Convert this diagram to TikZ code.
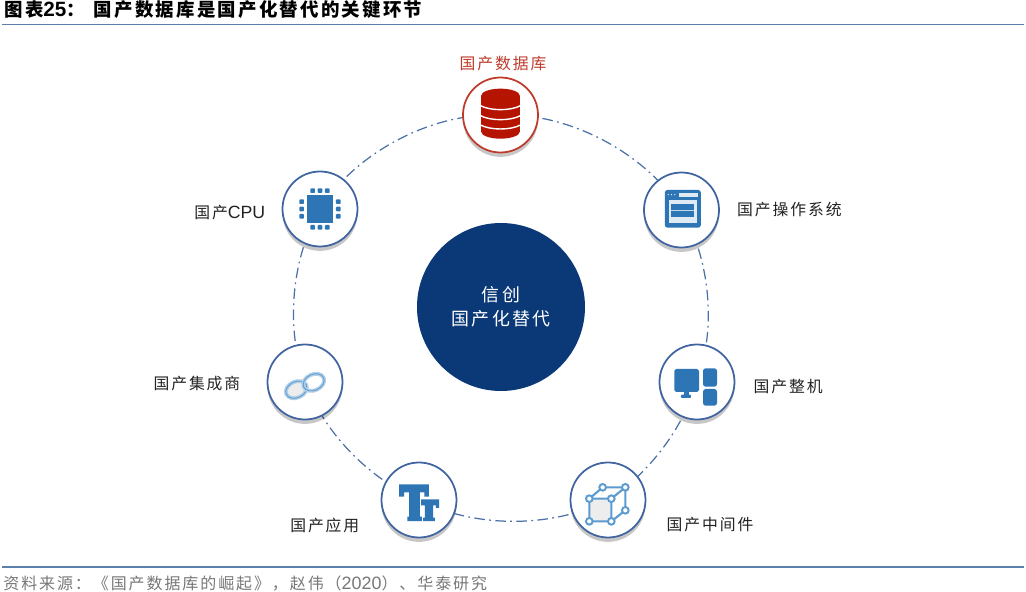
\documentclass[tikz,border=0pt]{standalone}
\usepackage{fontspec}
\setmainfont[LetterSpace=12]{Noto Sans CJK SC}
\newfontfamily\latnfont[Scale=1.12]{Liberation Sans}
\usepackage{tikz}
\usetikzlibrary{positioning,shadows,backgrounds}

\definecolor{ringblue}{HTML}{4A70A8}
\definecolor{rimblue}{HTML}{3F64A0}
\definecolor{iconblue}{HTML}{2E75B6}
\definecolor{cubeblue}{HTML}{5B9BD0}
\definecolor{paleblue}{HTML}{B4D0E8}
\definecolor{hubblue}{HTML}{0B3877}
\definecolor{rulecolor}{HTML}{5B80AE}
\definecolor{dbred}{HTML}{B41400}
\definecolor{rimred}{HTML}{BE3A2A}
\definecolor{labelgray}{HTML}{222222}
\definecolor{notegray}{HTML}{777777}

\tikzset{
	ringlink/.style={ringblue,line width=.7pt,dash pattern=on 6pt off 2.5pt on 1pt off 2.5pt,looseness=.85},
	itemnode/.style={circle,draw=rimblue,line width=1pt,fill=white,minimum size=1.5cm,inner sep=0pt,
		drop shadow={shadow xshift=0pt,shadow yshift=-2.5pt,opacity=.22,fill=black}},
	itemlabel/.style={inner sep=0pt,text=labelgray,font=\fontsize{9pt}{11pt}\selectfont},
	iconpx/.style={x=.00667cm,y=-.00667cm},
}

\begin{document}
\begin{tikzpicture}[node distance=1cm,align=center]
	\useasboundingbox (-10.02,6.14) rectangle (10.5,-5.7);
	% header and footer
	\node[anchor=west,inner sep=0pt,font=\fontsize{10.5pt}{12pt}\selectfont\bfseries] (title) at (-9.94,5.95)
		{图表{\latnfont 25}^^^^ff1a\hspace{.18cm}国产数据库是国产化替代的关键环节};
	\draw[rulecolor,line width=1.1pt] (-9.98,5.65) -- (10.46,5.65);
	\draw[rulecolor,line width=1pt] (-9.98,-5.2) -- (10.46,-5.2);
	\node[anchor=west,inner sep=0pt,text=notegray,font=\fontsize{9.1pt}{11pt}\selectfont] (source) at (-9.96,-5.53)
		{资料来源^^^^ff1a《国产数据库的崛起》^^^^ff0c赵伟^^^^ff08{\latnfont 2020}^^^^ff09、华泰研究};
	% hub and items
	\node[circle,fill=hubblue,minimum size=3.36cm,inner sep=0pt,text=white,font=\fontsize{10.2pt}{13.5pt}\selectfont] (hub) at (0,0) {信创\\国产化替代};
	\node[itemnode,draw=rimred] (db) at (-.01,3.84) {};
	\node[itemnode] (os) at (3.61,1.94) {};
	\node[itemnode] (pc) at (3.92,-1.5) {};
	\node[itemnode] (mw) at (2.14,-3.86) {};
	\node[itemnode] (app) at (-1.64,-3.86) {};
	\node[itemnode] (chain) at (-3.92,-1.5) {};
	\node[itemnode] (cpu) at (-3.62,1.96) {};
	% ring
	\begin{scope}[on background layer]
	\path[ringlink]
		(db.center) edge [bend left=30] (os.center)
		(os.center) edge [bend left=25] (pc.center)
		(pc.center) edge [bend left=20] (mw.center)
		(mw.center) edge [bend left=27] (app.center)
		(app.center) edge [bend left=23] (chain.center)
		(chain.center) edge [bend left=25] (cpu.center)
		(cpu.center) edge [bend left=30] (db.center);
	\end{scope}
	% labels
	\node[itemlabel,text=rimred,above=.1cm of db,xshift=.05cm] (dblabel) {国产数据库};
	\node[itemlabel,right=.34cm of os] (oslabel) {国产操作系统};
	\node[itemlabel,right=.36cm of pc,yshift=-.1cm] (pclabel) {国产整机};
	\node[itemlabel,right=.4cm of mw,yshift=-.5cm] (mwlabel) {国产中间件};
	\node[itemlabel,left=.42cm of app,yshift=-.5cm] (applabel) {国产应用};
	\node[itemlabel,left=.52cm of chain,yshift=-.04cm] (chainlabel) {国产集成商};
	\node[itemlabel,left=.32cm of cpu,yshift=-.08cm] (cpulabel) {国产{\latnfont CPU}};
	% database icon
	\begin{scope}[shift={(db)},iconpx]
		\fill[dbred] (-58,-58) arc[start angle=180,end angle=0,x radius=58,y radius=-21] -- (58,50)
			arc[start angle=0,end angle=-180,x radius=58,y radius=-21] -- cycle;
		\draw[white,line width=.8pt] (-60,-28) .. controls (-30,-12) and (30,-12) .. (60,-28);
		\draw[white,line width=.8pt] (-60,2) .. controls (-30,18) and (30,18) .. (60,2);
		\draw[white,line width=.8pt] (-60,30) .. controls (-30,46) and (30,46) .. (60,30);
	\end{scope}
	% cpu icon
	\begin{scope}[shift={(cpu)},iconpx]
		\fill[iconblue] (-40,-41) rectangle (40,41);
		\foreach \pin in {-22,0,22} {
			\fill[iconblue,rounded corners=.5pt] (\pin-7,-62) rectangle (\pin+7,-48);
			\fill[iconblue,rounded corners=.5pt] (\pin-7,48) rectangle (\pin+7,62);
			\fill[iconblue,rounded corners=.5pt] (-62,\pin-7) rectangle (-48,\pin+7);
			\fill[iconblue,rounded corners=.5pt] (48,\pin-7) rectangle (62,\pin+7);
		}
	\end{scope}
	% window icon
	\begin{scope}[shift={(os)},iconpx,shift={(4,-4)}]
		\fill[iconblue,rounded corners=1.5pt] (-54,-56) rectangle (54,57);
		\fill[white!85!iconblue] (-11,-48) rectangle (46,-36);
		\fill[white!85!iconblue] (-41,-26) rectangle (41,42);
		\fill[iconblue] (-34,-13) rectangle (34,24);
		\fill[white!70!iconblue] (-34,3) rectangle (34,5);
		\foreach \dot in {-44,-34,-24} {
			\fill[white!85!iconblue] (\dot,-42) circle (2.2);
		}
	\end{scope}
	% computer icon
	\begin{scope}[shift={(pc)},iconpx]
		\fill[iconblue,rounded corners=1pt] (-68,-39) rectangle (6,30);
		\fill[iconblue] (-38,30) rectangle (-24,40);
		\fill[iconblue,rounded corners=.5pt] (-48,38) rectangle (-18,48);
		\fill[iconblue,rounded corners=1.5pt] (18,-41) rectangle (60,14);
		\fill[iconblue,rounded corners=1.5pt] (18,21) rectangle (60,71);
	\end{scope}
	% cube icon
	\begin{scope}[shift={(mw)},iconpx]
		\fill[white!93!black] (-56,-4) rectangle (10,64);
		\draw[cubeblue,line width=1.2pt]
			(-56,-4) rectangle (10,64)
			(-56,-4) -- (-16,-38) -- (52,-38) -- (10,-4)
			(52,-38) -- (52,31) -- (10,64);
		\foreach \vx/\vy in {-56/-4,10/-4,-56/64,10/64,-16/-38,52/-38,52/31} {
			\draw[cubeblue,fill=white,line width=1.1pt] (\vx,\vy) circle (10);
		}
	\end{scope}
	% letters icon
	\begin{scope}[shift={(app)},iconpx,shift={(-417.5,-150)}]
		\fill[iconblue] (358,103) -- (447,103) -- (447,140) -- (434,140) -- (434,127) -- (420,127) -- (420,200)
			-- (426,200) -- (426,213) -- (383,213) -- (383,200) -- (388,200) -- (388,127) -- (373,127)
			-- (373,140) -- (358,140) -- cycle;
		\fill[iconblue] (424,148) -- (478,148) -- (478,174) -- (468,174) -- (468,166) -- (460,166) -- (460,203)
			-- (465,203) -- (465,213) -- (430,213) -- (430,203) -- (435,203) -- (435,166) -- (424,166) -- cycle;
	\end{scope}
	% rings icon
	\begin{scope}[shift={(chain)},iconpx,shift={(-495,-125)}]
		\draw[paleblue,line width=2.2pt,fill=white!93!black,rotate around={25:(469,148)}] (469,148) ellipse (33 and 24);
		\draw[cubeblue,line width=.5pt,rotate around={25:(469,148)}] (469,148) ellipse (33 and 24);
		\draw[paleblue,line width=2.2pt,rotate around={25:(521,126)}] (521,126) ellipse (33 and 24);
		\draw[cubeblue,line width=.5pt,rotate around={25:(521,126)}] (521,126) ellipse (33 and 24);
	\end{scope}
\end{tikzpicture}
\end{document}
